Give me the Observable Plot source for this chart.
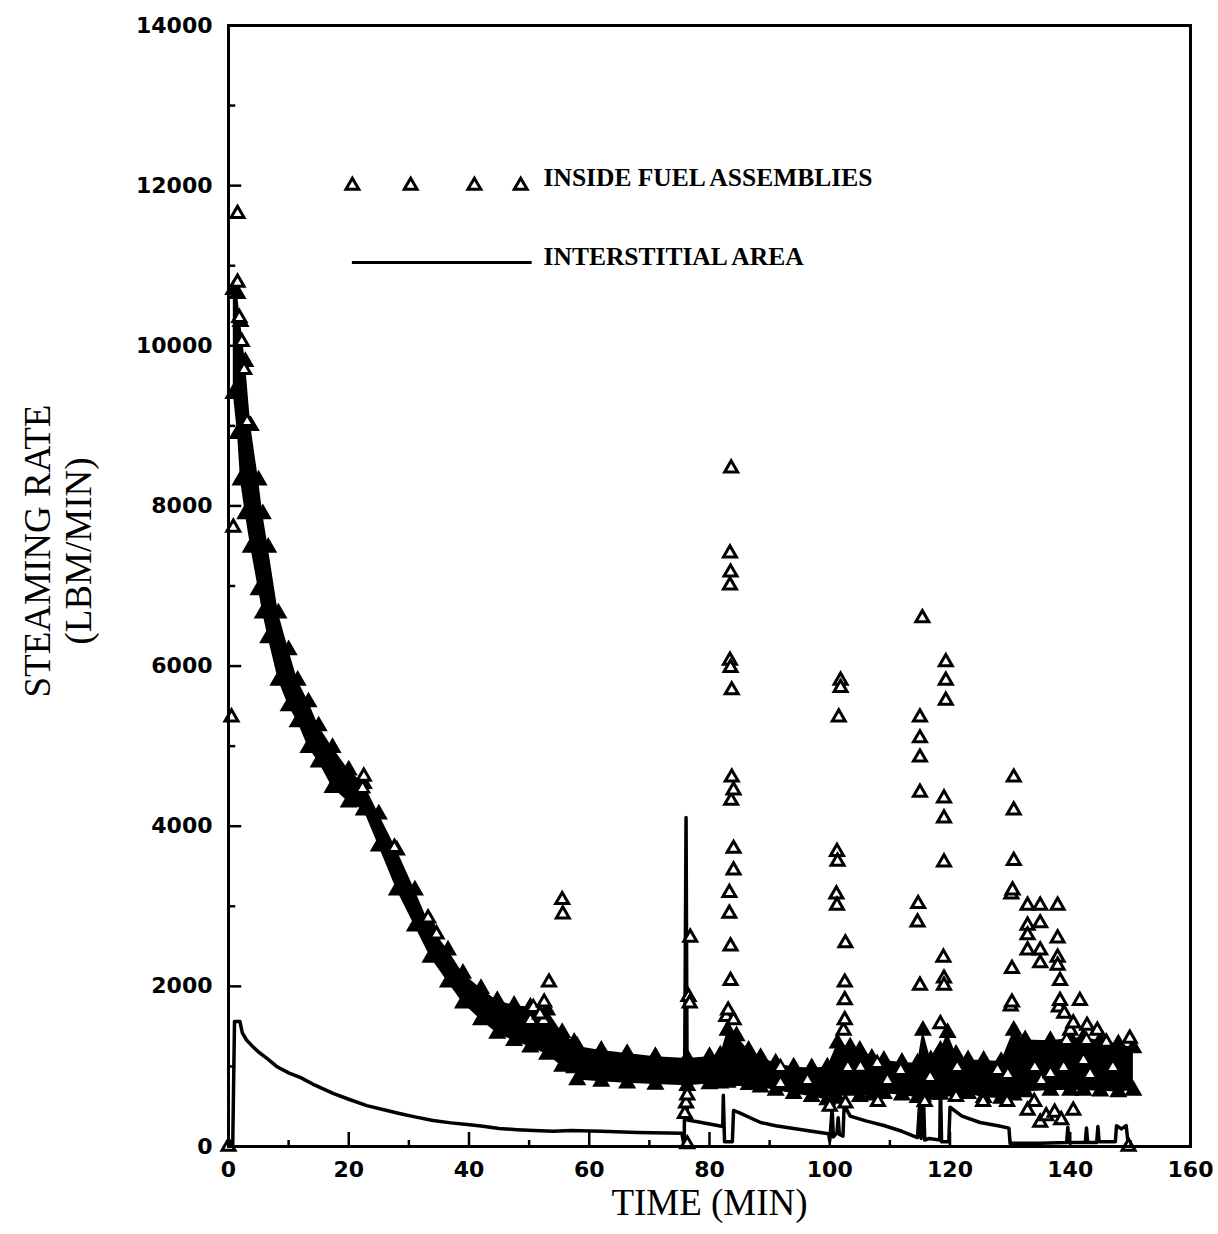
<!DOCTYPE html>
<html><head><meta charset="utf-8">
<script src="https://cdn.jsdelivr.net/npm/d3@7"></script>
<script src="https://cdn.jsdelivr.net/npm/@observablehq/plot@0.6"></script>
<style>body{margin:0;background:#fff}</style>
</head><body><div id="chart"></div>
<script>
// ---- axis ticks ----
const xTicks = [0, 20, 40, 60, 80, 100, 120, 140, 160];
const xMinorTicks = [10, 30, 50, 70, 90, 110, 130, 150];
const yTicks = [0, 2000, 4000, 6000, 8000, 10000, 12000, 14000];
const yMinorTicks = [1000, 3000, 5000, 7000, 9000, 11000, 13000];

// ---- interstitial area (line) ----
const interTime = [0, 0.7, 1.0, 1.9, 2.3, 3.0, 4.0, 5.0, 6.4, 8.0, 10.0, 12.0, 14.0, 17.5, 20.0, 23.0, 26.0, 28.6, 31.0, 34.0, 37.0, 39.7, 42.0, 45.0, 48.0, 50.8, 54.0, 57.0, 62.0, 68.0, 75.4, 75.8, 76.1, 76.3, 78.0, 80.0, 82.2, 82.3, 82.5, 83.8, 84.0, 85.0, 88.5, 91.0, 94.0, 97.0, 99.8, 100.0, 100.4, 100.6, 101.2, 101.4, 101.6, 102.2, 102.4, 103.4, 106.0, 109.0, 112.0, 114.6, 115.0, 115.2, 115.6, 115.8, 116.5, 118.3, 118.4, 118.6, 119.8, 120.0, 122.0, 125.0, 128.0, 129.8, 130.0, 135.0, 139.4, 139.6, 139.8, 142.5, 142.7, 142.9, 144.4, 144.6, 144.8, 147.5, 147.7, 148.5, 149.3, 149.6, 150.2];
const interRate = [0, 0, 1560, 1560, 1420, 1330, 1250, 1180, 1100, 1000, 920, 860, 780, 660, 590, 510, 455, 410, 370, 325, 295, 275, 255, 225, 210, 200, 190, 200, 190, 175, 165, 0, 4110, 330, 310, 280, 250, 640, 60, 60, 450, 420, 300, 260, 225, 190, 160, 70, 480, 120, 170, 360, 150, 130, 520, 380, 320, 262, 190, 112, 610, 100, 600, 80, 100, 80, 820, 60, 60, 490, 380, 300, 260, 230, 40, 40, 50, 240, 50, 50, 230, 50, 50, 250, 60, 60, 260, 220, 260, 60, 0];

// ---- inside fuel assemblies: dense band of triangles (lower / upper edge) ----
const bandTime = [0.8, 1.5, 2.0, 2.8, 3.7, 5.0, 5.7, 6.6, 8.3, 10.0, 11.5, 13.3, 15.0, 17.3, 20.0, 22.5, 25.0, 28.0, 31.0, 33.6, 36.5, 39.0, 42.0, 44.7, 47.5, 50.2, 53.0, 55.5, 57.5, 58.0, 62.0, 66.3, 71.0, 76.3, 80.0, 81.8, 83.0, 84.5, 86.5, 88.5, 91.0, 94.0, 97.0, 99.6, 101.3, 103.4, 105.0, 107.0, 109.0, 112.0, 114.6, 115.5, 116.8, 118.4, 119.6, 121.0, 123.0, 125.6, 128.5, 130.6, 132.5, 136.7, 140.0, 142.2, 145.0, 148.0, 150.5];
const bandLow = [9400, 8900, 8320, 7900, 7480, 6950, 6660, 6350, 5820, 5500, 5300, 4980, 4800, 4480, 4300, 4200, 3750, 3200, 2750, 2360, 2050, 1790, 1580, 1410, 1320, 1240, 1150, 1000, 980, 830, 810, 790, 775, 760, 780, 790, 800, 820, 770, 740, 700, 660, 620, 580, 600, 700, 620, 640, 660, 640, 610, 620, 650, 650, 690, 700, 660, 610, 600, 640, 680, 700, 700, 700, 690, 680, 700];
const bandHigh = [10700, 10650, 10300, 9800, 9000, 8320, 7900, 7480, 6660, 6200, 5820, 5550, 5250, 4980, 4700, 4530, 4150, 3700, 3200, 2740, 2450, 2160, 1970, 1820, 1760, 1740, 1700, 1420, 1300, 1250, 1200, 1160, 1120, 1100, 1120, 1140, 1450, 1380, 1200, 1110, 1040, 990, 980, 990, 1290, 1240, 1200, 1100, 1075, 1050, 1040, 1450, 1080, 1200, 1420, 1150, 1080, 1075, 1060, 1450, 1330, 1320, 1350, 1360, 1320, 1280, 1230];

// ---- inside fuel assemblies: individual triangles away from the band ----
const fuelTime = [0, 0.5, 0.8, 1.5, 1.5, 1.8, 2.2, 2.6, 3.1, 22.5, 27.6, 33.2, 34.6, 51.8, 52.5, 53.3, 55.5, 55.6,
  75.9, 76.1, 76.3, 76.3, 76.5, 76.7, 76.8,
  82.8, 83.1, 83.3, 83.3, 83.4, 83.4, 83.4, 83.5, 83.5, 83.5, 83.5, 83.6, 83.6, 83.7, 83.7, 84.0, 84.0, 84.0, 84.0,
  100.0, 101.1, 101.2, 101.2, 101.3, 101.5, 101.8, 101.8, 102.3, 102.5, 102.5, 102.5, 102.6, 102.6, 108.0,
  114.6, 114.7, 115.0, 115.0, 115.0, 115.0, 115.0, 115.4, 115.8, 118.4, 118.9, 119.0, 119.0, 119.0, 119.0, 119.0, 119.3, 119.3, 119.3, 121.0, 125.5, 129.5,
  130.1, 130.2, 130.3, 130.3, 130.4, 130.6, 130.6, 130.6, 132.9, 132.9, 132.9, 132.9, 132.9, 134.0, 135.0, 135.0, 135.0, 135.0, 135.0, 136.0, 137.4, 137.9, 137.9, 137.9, 137.9, 138.1, 138.3, 138.3, 138.5, 139.0, 140.0, 140.5, 140.5, 141.6, 142.8, 144.5, 146.0, 149.7, 149.9];
const fuelRate = [0, 5360, 7730, 11650, 10790, 10350, 10050, 9700, 9050, 4620, 3730, 2850, 2650, 1650, 1800, 2050, 3080, 2900,
  410, 540, 640, 30, 1870, 1790, 2610,
  1620, 1700, 3170, 2910, 7410, 7010, 6070, 7170, 5980, 2500, 2070, 8470, 4320, 5700, 4610, 4450, 3720, 3450, 1580,
  500, 3150, 3680, 3010, 3560, 5360, 5820, 5730, 1450, 2050, 1830, 1580, 2540, 540, 560,
  2800, 3030, 5360, 5100, 4860, 4420, 2010, 6600, 560, 1530, 2360, 4350, 4100, 3550, 2100, 2010, 6050, 5820, 5570, 620, 560, 560,
  1750, 3150, 2220, 1800, 3200, 4610, 4200, 3570, 3010, 2760, 2640, 2450, 450, 560, 3010, 2790, 2450, 2290, 300, 380, 425, 3010, 2600, 2360, 2260, 1740, 2070, 1820, 330, 1660, 1450, 1540, 450, 1820, 1510, 1450, 1300, 0, 1350];

// ---- triangles seen as white holes inside the band ----
const holeTime = [22.3, 50.2, 50.7, 52.4, 91.8, 91.8, 96.3, 103.0, 105.1, 107.9, 109.6, 111.8, 116.7, 121.2, 127.9, 129.6, 134.1, 135.2, 136.7, 138.9, 139.4, 142.2, 142.7, 143.3, 147.1];
const holeRate = [4470, 1574, 1736, 1574, 987, 787, 824, 987, 990, 1037, 824, 950, 862, 987, 950, 900, 987, 824, 912, 987, 1324, 1074, 1324, 900, 987];

// ---- build tables ----
const inter = interTime.map((t, i) => ({t, v: interRate[i]}));
const band = bandTime.map((t, i) => ({t, lo: bandLow[i], hi: bandHigh[i]}));
const edges = band.flatMap(d => [{t: d.t, v: d.lo}, {t: d.t, v: d.hi}]);
const fuel = fuelTime.map((t, i) => ({t, v: fuelRate[i]}));
const holes = holeTime.map((t, i) => ({t, v: holeRate[i]}));

const tickFont = {fontFamily: "DejaVu Sans", fontWeight: "bold", fontSize: 22};
const legendFont = {fontFamily: "Liberation Serif", fontWeight: "bold", fontSize: 25.5};
const titleFont = {fontFamily: "Liberation Serif", fontSize: 37};
const tri = {symbol: "triangle", r: 4.8, stroke: "#000", strokeWidth: 3};

const chart = Plot.plot({
  width: 1218, height: 1234,
  marginLeft: 228, marginRight: 28, marginTop: 25, marginBottom: 88,
  x: {domain: [0, 160]},
  y: {domain: [0, 14000]},
  style: {background: "#fff", color: "#000", overflow: "visible"},
  marks: [
    Plot.areaY(band, {x: "t", y1: "lo", y2: "hi", fill: "#000", curve: "linear"}),
    Plot.dot(edges, {x: "t", y: "v", ...tri, fill: "#000"}),
    Plot.dot(holes, {x: "t", y: "v", ...tri, fill: "#fff", strokeWidth: 2.5}),
    Plot.line(inter, {x: "t", y: "v", stroke: "#000", strokeWidth: 3.5}),
    Plot.dot(fuel, {x: "t", y: "v", ...tri, fill: "#fff"}),
    // inward ticks
    Plot.ruleY(yTicks, {y: d => d, x1: 0, x2: 2.2, stroke: "#000", strokeWidth: 2.5}),
    Plot.ruleY(yMinorTicks, {y: d => d, x1: 0, x2: 1.2, stroke: "#000", strokeWidth: 2.5}),
    Plot.ruleX(xTicks, {x: d => d, y1: 0, y2: 175, stroke: "#000", strokeWidth: 2.5}),
    Plot.ruleX(xMinorTicks, {x: d => d, y1: 0, y2: 75, stroke: "#000", strokeWidth: 2.5}),
    Plot.frame({stroke: "#000", strokeWidth: 3}),
    Plot.axisX({ticks: xTicks, tickSize: 0, tickPadding: 15, label: null, tickFormat: d => String(d), ...tickFont}),
    Plot.axisY({ticks: yTicks, tickSize: 0, tickPadding: 16, label: null, tickFormat: d => String(d), ...tickFont}),
    // axis titles
    Plot.text(["TIME (MIN)"], {text: d => d, frameAnchor: "bottom", dy: 57, textAnchor: "middle", lineAnchor: "middle", ...titleFont}),
    Plot.text(["STEAMING RATE"], {text: d => d, frameAnchor: "left", dx: -190, dy: -35, rotate: -90, textAnchor: "middle", lineAnchor: "middle", ...titleFont}),
    Plot.text(["(LBM/MIN)"], {text: d => d, frameAnchor: "left", dx: -149, dy: -35, rotate: -90, textAnchor: "middle", lineAnchor: "middle", ...titleFont}),
    // legend
    Plot.dot([20.6, 30.3, 40.9, 48.6], {x: d => d, y: 12000, ...tri, fill: "#fff"}),
    Plot.ruleY([11040], {x1: 20.6, x2: 50.5, stroke: "#000", strokeWidth: 3}),
    Plot.text(["INSIDE FUEL ASSEMBLIES"], {text: d => d, x: 52.4, y: 12100, textAnchor: "start", lineAnchor: "middle", ...legendFont}),
    Plot.text(["INTERSTITIAL AREA"], {text: d => d, x: 52.4, y: 11110, textAnchor: "start", lineAnchor: "middle", ...legendFont})
  ]
});
document.getElementById("chart").appendChild(chart);
</script>
</body></html>
